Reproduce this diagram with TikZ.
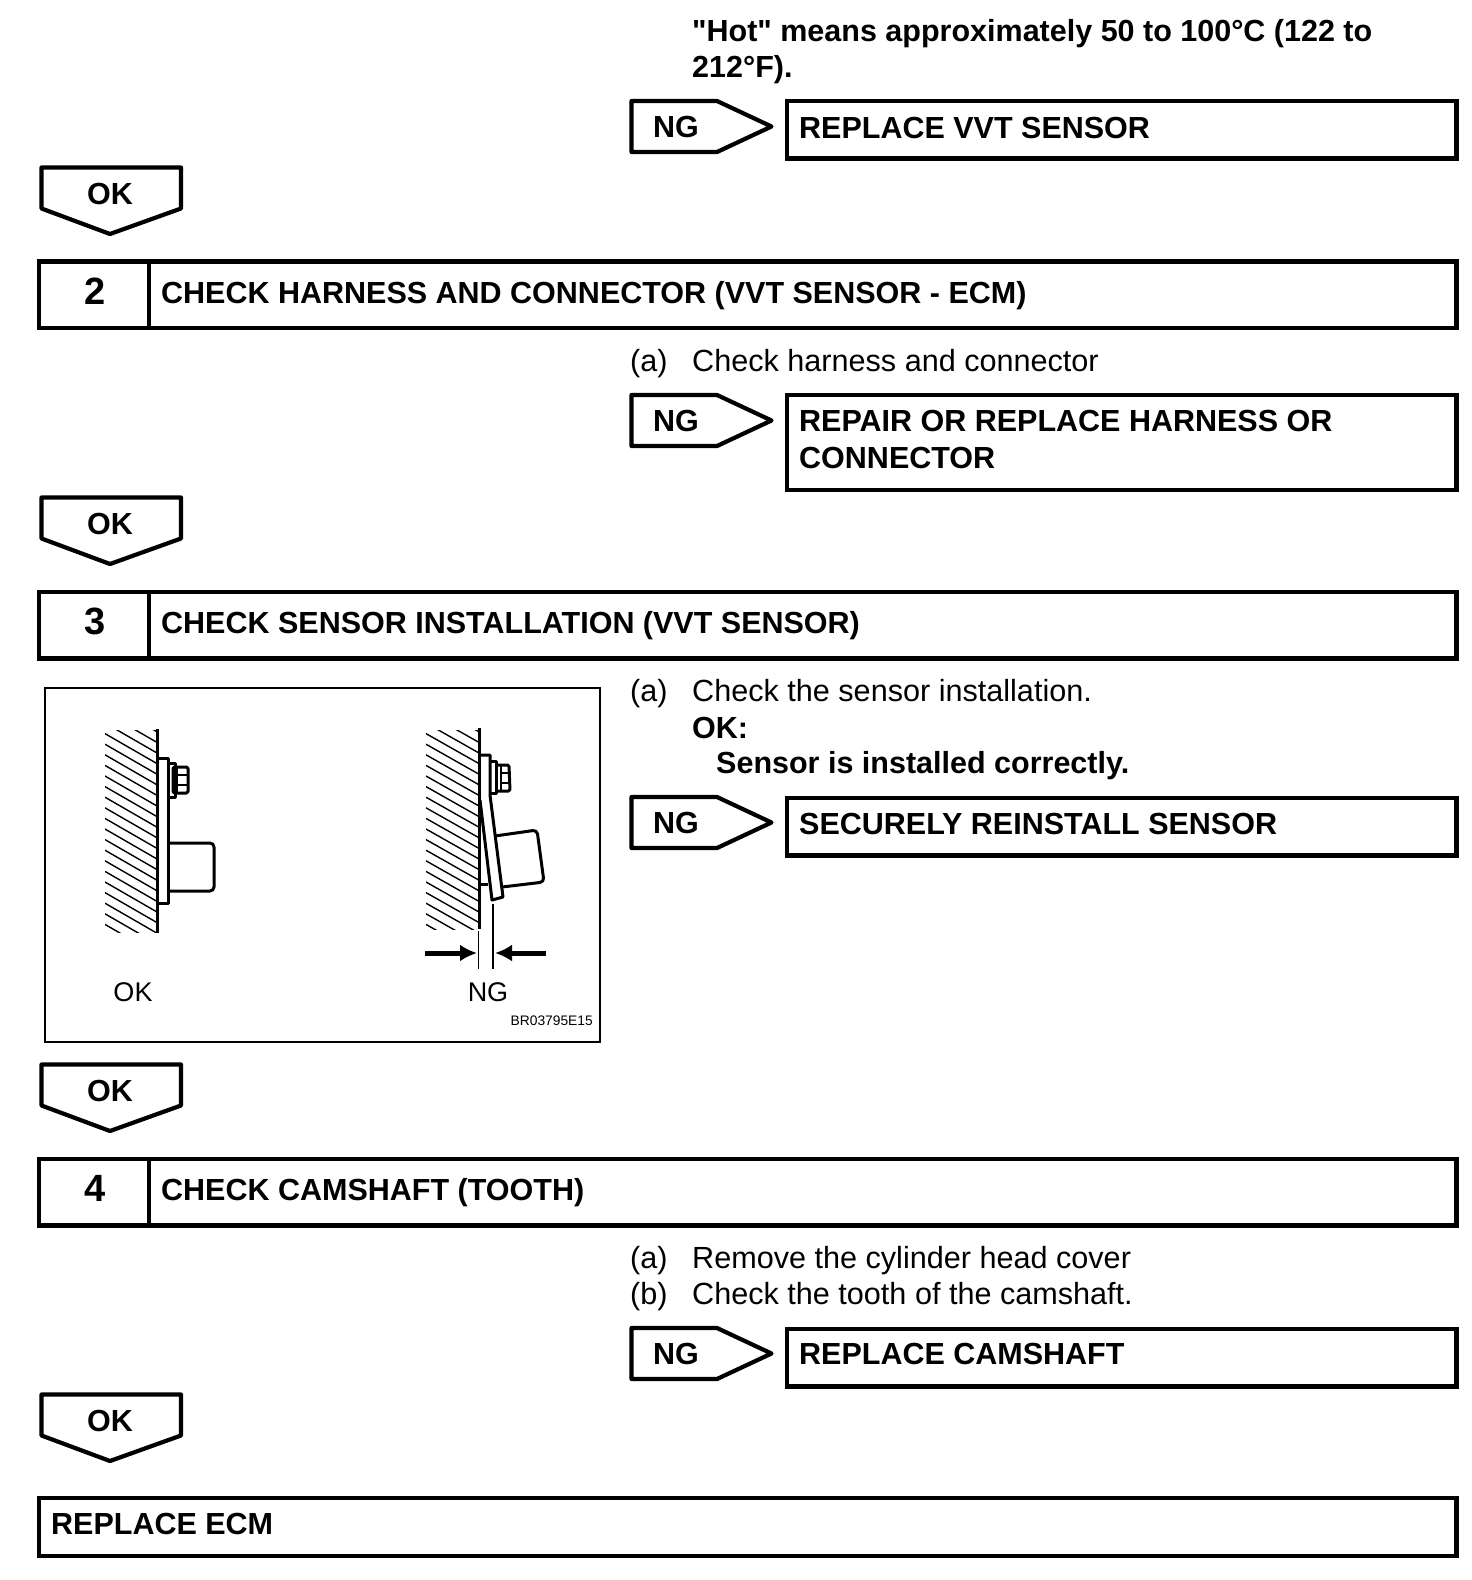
\documentclass[tikz,border=0pt]{standalone}
\usepackage{fontspec}
\setmainfont[Ligatures=TeXOff]{Liberation Sans}
\usepackage{xcolor}
\usetikzlibrary{arrows.meta}

\tikzset{
  frame/.style={line width=4.4pt,line join=miter},
  tag/.style={line width=4.2pt,line join=round},
  bodytxt/.style={anchor=base west,inner sep=0pt,font=\fontsize{30.6}{36}\selectfont},
  headtxt/.style={bodytxt,font=\fontsize{30.5}{36}\selectfont\bfseries},
  tagtxt/.style={anchor=base,inner sep=0pt,font=\fontsize{30.5}{36}\selectfont\bfseries},
  numtxt/.style={anchor=base,inner sep=0pt,font=\fontsize{38}{40}\selectfont\bfseries},
  figtxt/.style={anchor=base,inner sep=0pt,font=\fontsize{27}{30}\selectfont},
  part/.style={line width=3pt,line join=round},
  hatch/.style={line width=1.4pt},
}

\begin{document}
\begin{tikzpicture}[x=1pt,y=-1pt]
  \useasboundingbox (0,0) rectangle (1472,1580);

  % tags and boxes
  \foreach \y in {167.5,497.5,1064.5,1394.5}
    \draw[tag] (41.5,\y) -- (181,\y) -- (181,\y+41) -- (110,\y+66.5) -- (41.5,\y+41) -- cycle;
  \foreach \y in {101,395,797,1328}
    \draw[tag] (631.5,\y) -- (717,\y) -- (771.5,\y+25.5) -- (717,\y+51) -- (631.5,\y+51) -- cycle;
  \foreach \y in {261.5,592,1159} {
    \draw[frame] (39,\y) rectangle (1456.5,\y+66.5);
    \draw[frame] (149,\y) -- (149,\y+66.5);
  }
  \draw[frame] (787,101) rectangle (1456.5,158.5);
  \draw[frame] (787,395) rectangle (1456.5,490);
  \draw[frame] (787,798) rectangle (1456.5,855.5);
  \draw[frame] (787,1329) rectangle (1456.5,1386.5);
  \draw[frame] (39,1498) rectangle (1456.5,1556);

  % text right of the steps
  \node[headtxt] (hotone) at (692,41.5) {"Hot" means approximately 50 to 100°C (122 to};
  \node[headtxt] (hottwo) at (692,77.5) {212°F).};
  \node[tagtxt] (ngone) at (676,137) {NG};
  \node[headtxt] (resone) at (799,138) {REPLACE VVT SENSOR};
  \node[tagtxt] (okone) at (110,204) {OK};

  \node[numtxt] (numtwo) at (95,304) {2};
  \node[headtxt] (steptwo) at (161,303) {CHECK HARNESS AND CONNECTOR (VVT SENSOR - ECM)};
  \node[bodytxt] (aone) at (630,371.5) {(a)};
  \node[bodytxt] (checkharness) at (692,371.5) {Check harness and connector};
  \node[tagtxt] (ngtwo) at (676,431) {NG};
  \node[headtxt] (restwo) at (799,431) {REPAIR OR REPLACE HARNESS OR};
  \node[headtxt] (restwob) at (799,468) {CONNECTOR};
  \node[tagtxt] (oktwo) at (110,534) {OK};

  \node[numtxt] (numthree) at (95,634) {3};
  \node[headtxt] (stepthree) at (161,633) {CHECK SENSOR INSTALLATION (VVT SENSOR)};
  \node[bodytxt] (atwo) at (630,701.5) {(a)};
  \node[bodytxt] (checkinstall) at (692,701.5) {Check the sensor installation.};
  \node[headtxt] (okspec) at (692,738) {OK:};
  \node[headtxt] (okspectxt) at (716,773) {Sensor is installed correctly.};
  \node[tagtxt] (ngthree) at (676,833) {NG};
  \node[headtxt] (resthree) at (799,834) {SECURELY REINSTALL SENSOR};
  \node[tagtxt] (okthree) at (110,1101) {OK};

  \node[numtxt] (numfour) at (95,1201) {4};
  \node[headtxt] (stepfour) at (161,1200.5) {CHECK CAMSHAFT (TOOTH)};
  \node[bodytxt] (athree) at (630,1268) {(a)};
  \node[bodytxt] (removecover) at (692,1268) {Remove the cylinder head cover};
  \node[bodytxt] (bthree) at (630,1304) {(b)};
  \node[bodytxt] (checktooth) at (692,1304) {Check the tooth of the camshaft.};
  \node[tagtxt] (ngfour) at (676,1364) {NG};
  \node[headtxt] (resfour) at (799,1364.5) {REPLACE CAMSHAFT};
  \node[tagtxt] (okfour) at (110,1431) {OK};
  \node[headtxt] (replaceecm) at (51,1534.5) {REPLACE ECM};

  % figure frame
  \draw[line width=2pt] (45,688) rectangle (600,1042);

  % good mounting
  \begin{scope}
    \clip (105,730) rectangle (157,932);
    \foreach \y in {670,680.6,...,930}
      \draw[hatch] (105,\y) -- (157,\y+30);
  \end{scope}
  \draw[part] (157.5,729) -- (157.5,933);
  \draw[part] (157.5,758) -- (168,758) -- (168,903) -- (157.5,903);
  \draw[part] (168,763) -- (175,763) -- (175,797) -- (168,797);
  \draw[part,rounded corners=1.5pt] (173,767) rectangle (188,793);
  \draw[part,line width=2.4pt] (177,767) -- (177,793) (177,775) -- (188,775) (177,785) -- (188,785);
  \draw[part,rounded corners=4pt] (168,843) -- (214,843) -- (214,891) -- (168,891);
  \node[figtxt] (goodlab) at (133,1001) {OK};

  % bad mounting
  \begin{scope}
    \clip (426,730) rectangle (479,929);
    \foreach \y in {670,680.6,...,930}
      \draw[hatch] (426,\y) -- (479,\y+30);
  \end{scope}
  \draw[part] (479.5,728) -- (479.5,929);
  \draw[part] (480,755) -- (490,755) -- (490,795) -- (503,897) -- (492,900) -- (480,800);
  \draw[part] (490,761) -- (496,761) -- (496,793) -- (490,793);
  \draw[part,rounded corners=1.5pt] (496,765) -- (509,765) -- (510,791) -- (496,791);
  \draw[part,line width=2.4pt] (501,765) -- (501,791) (501,773) -- (510,773) (501,783) -- (510,783);
  \draw[part,rounded corners=4pt] (495,836) -- (537,830) -- (544,882) -- (502,887);
  \draw[part] (480,884) -- (488,884);
  \draw[line width=1.8pt] (478.5,931) -- (478.5,969) (493,904) -- (493,969);
  \coordinate (leftend) at (425,953);
  \coordinate (leftdim) at (477,953);
  \coordinate (rightend) at (546,953);
  \coordinate (rightdim) at (495,953);
  \draw[line width=5pt,-{Latex[length=17pt,width=17pt]}] (leftend) -- (leftdim);
  \draw[line width=5pt,-{Latex[length=17pt,width=17pt]}] (rightend) -- (rightdim);
  \node[figtxt] (badlab) at (488,1001) {NG};
  \node[anchor=base east,inner sep=0pt,font=\fontsize{13.8}{15}\selectfont] (figcode) at (593,1025) {BR03795E15};
\end{tikzpicture}
\end{document}
